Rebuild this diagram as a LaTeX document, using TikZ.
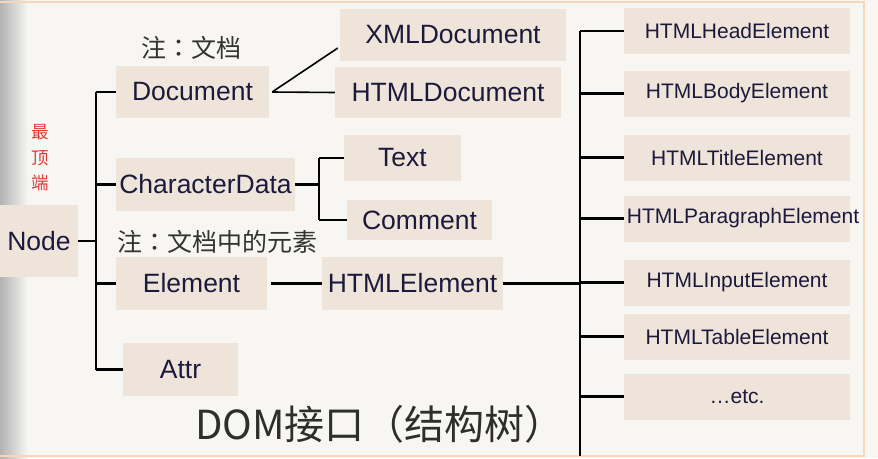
\documentclass[tikz,border=0pt]{standalone}
\usepackage{fontspec}
\setmainfont{Liberation Sans}
\newfontfamily\cjk{Noto Sans CJK SC}
\newfontfamily\cjktc{Noto Sans CJK TC}
\usetikzlibrary{calc}
\definecolor{bg}{HTML}{F7F6F3}
\definecolor{boxc}{HTML}{EFE4DA}
\definecolor{boxt}{HTML}{1C1A3C}
\definecolor{frame}{HTML}{F8D6BC}
\definecolor{notec}{HTML}{333333}
\definecolor{redc}{HTML}{E03A3A}
\tikzset{
  bx/.style={fill=boxc, text=boxt, inner sep=0pt, font=\fontsize{26.5}{30}\selectfont},
  rbx/.style={fill=boxc, text=boxt, inner sep=0pt, minimum width=226pt, minimum height=46pt, font=\fontsize{21}{24}\selectfont},
  rtx/.style={text=boxt, inner sep=0pt, font=\fontsize{21}{24}\selectfont},
  note/.style={text=notec, inner sep=0pt, font=\cjk\fontsize{25}{28}\selectfont},
  ln/.style={draw=black, line width=2.2pt}
}
\begin{document}
\begin{tikzpicture}[x=1pt,y=-1pt]
\useasboundingbox (0,0) rectangle (878,458);
\fill[bg] (0,0) rectangle (878,458);
\shade[left color=black!30, right color=bg] (0,0) rectangle (28,458);
\draw[frame, line width=2pt] (-2,2) -- (864,2) -- (864,456) -- (-2,456);

% left boxes
\node[bx, minimum width=78pt, minimum height=72pt] (Node) at (39,241) {Node};
\node[bx, minimum width=153pt, minimum height=52pt] (Document) at (192.5,92) {Document};
\node[bx, minimum width=226pt, minimum height=52pt] (XMLDocument) at (453,35) {XMLDocument};
\node[bx, minimum width=226pt, minimum height=51pt] (HTMLDocument) at (448,92.5) {HTMLDocument};
\node[bx, minimum width=179pt, minimum height=53pt] (CharacterData) at (205.5,184.5) {CharacterData};
\node[bx, minimum width=117pt, minimum height=46pt] (Text) at (402.5,158) {Text};
\node[bx, minimum width=145pt, minimum height=40pt] (Comment) at (419.5,220) {Comment};
\node[bx, minimum width=151pt, minimum height=53pt] (Element) at (191.5,283.5) {Element};
\node[bx, minimum width=181pt, minimum height=53pt] (HTMLElement) at (412.5,283.5) {HTMLElement};
\node[bx, minimum width=115pt, minimum height=53pt] (Attr) at (180.5,369.5) {Attr};

% right boxes
\node[rbx] (Head) at (737,31) {HTMLHeadElement};
\node[rbx] (Body) at (737,93.5) {HTMLBodyElement};
\node[rbx] (Title) at (737,157.5) {HTMLTitleElement};
\node[rbx] (Para) at (737,218.5) {};
\node[rtx] (ParaText) at (743,218.5) {HTMLParagraphElement};
\node[rbx] (Input) at (737,282.5) {HTMLInputElement};
\node[rbx] (Table) at (737,336.5) {HTMLTableElement};
\node[rbx] (Etc) at (737,396.5) {\ldots etc.};

% notes
\node[note] (n1) at (191,48) {注{\cjktc ：}文档};
\node[note] (n2) at (217,242) {注{\cjktc ：}文档中的元素};
\node[text=redc, inner sep=0pt, font=\cjk\fontsize{17.5}{25.5}\selectfont, align=center] (top) at (40,158) {最\\顶\\端};
\node[text=notec!90!black, inner sep=0pt, font=\cjk\fontsize{40}{44}\selectfont] (title) at (380,424) {DOM接口{\cjktc （}结构树{\cjktc ）}};

% connectors
\coordinate (tk1) at (96,0);
\coordinate (tk2) at (319,0);
\coordinate (tk3) at (580,0);
\coordinate (bot) at (580,456);
\draw[ln] (Node.east) -- (tk1 |- Node.east);
\draw[ln] (tk1 |- Document.west) -- (tk1 |- Attr.west);
\draw[ln] (tk1 |- Document.west) -- (Document.west);
\draw[ln] (tk1 |- CharacterData.west) -- (CharacterData.west);
\draw[ln] (tk1 |- Element.west) -- (Element.west);
\draw[ln] (tk1 |- Attr.west) -- (Attr.west);
\draw[ln, line width=1.6pt] ([xshift=3pt]Document.east) -- ([xshift=-2pt,yshift=-13pt]XMLDocument.west);
\draw[ln, line width=1.6pt] ([xshift=3pt]Document.east) -- (HTMLDocument.west);
\draw[ln] (CharacterData.east) -- (tk2 |- CharacterData.east);
\draw[ln] (tk2 |- Text.west) -- (tk2 |- Comment.west);
\draw[ln] (tk2 |- Text.west) -- (Text.west);
\draw[ln] (tk2 |- Comment.west) -- (Comment.west);
\draw[ln] ([xshift=4pt]Element.east) -- (HTMLElement.west);
\draw[ln] (HTMLElement.east) -- (tk3 |- HTMLElement.east);
\draw[ln] (tk3 |- Head.west) -- (bot);
\foreach \n in {Head,Body,Title,Para,Input,Table,Etc}
  \draw[ln] (tk3 |- \n.west) -- (\n.west);
\end{tikzpicture}
\end{document}
